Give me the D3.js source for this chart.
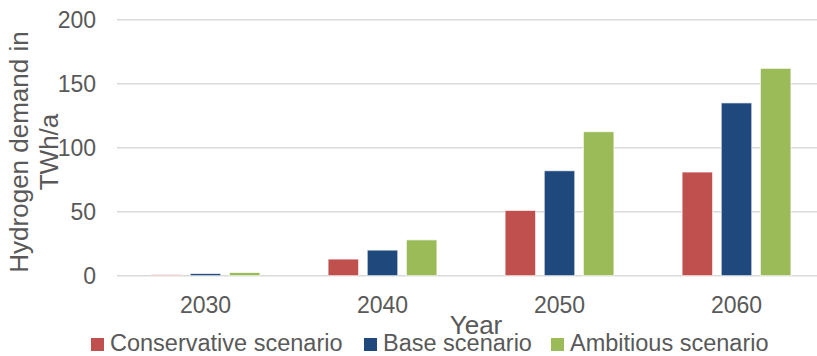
<!DOCTYPE html>
<html>
<head>
<meta charset="utf-8">
<script src="https://cdn.jsdelivr.net/npm/d3@7"></script>
<style>
  body { margin: 0; background: #fff; }
  svg { display: block; font-family: "Liberation Sans", Arial, sans-serif; }
</style>
</head>
<body>
<svg id="chart" width="817" height="356"></svg>
<script>
var years = ['2030', '2040', '2050', '2060'];
var seriesNames = ['Conservative scenario', 'Base scenario', 'Ambitious scenario'];
var seriesColors = ['#C0504D', '#1F497D', '#9BBB59'];
var conservative = [0.8, 13, 51, 81];
var base = [1.7, 20, 82, 135];
var ambitious = [2.5, 28, 112.5, 162];
var yTicks = [0, 50, 100, 150, 200];

var values = [conservative, base, ambitious];

var svg = d3.select('#chart');
var plotLeft = 117, plotRight = 825, plotTop = 19.7, plotBottom = 275.7;

var x0 = d3.scaleBand()
    .domain(years)
    .range([plotLeft, plotRight])
    .paddingInner(0.385)
    .paddingOuter(0.1925);

var x1 = d3.scaleBand()
    .domain(d3.range(seriesNames.length))
    .range([0, x0.bandwidth()])
    .paddingInner(0.22);

var y = d3.scaleLinear().domain([0, 200]).range([plotBottom, plotTop]);

// gridlines
svg.append('g')
    .selectAll('line')
    .data(yTicks)
    .enter()
    .append('line')
    .attr('x1', plotLeft)
    .attr('x2', plotRight)
    .attr('y1', function(d){ return y(d); })
    .attr('y2', function(d){ return y(d); })
    .attr('stroke', '#d9d9d9')
    .attr('stroke-width', 1.4);

// y tick labels
svg.append('g')
    .selectAll('text')
    .data(yTicks)
    .enter()
    .append('text')
    .attr('x', 96)
    .attr('y', function(d){ return y(d) + 8; })
    .attr('text-anchor', 'end')
    .attr('font-size', 23)
    .attr('fill', '#595959')
    .text(function(d){ return d; });

// bars
var groups = svg.append('g')
    .selectAll('g')
    .data(years)
    .enter()
    .append('g')
    .attr('transform', function(d){ return 'translate(' + x0(d) + ',0)'; });

groups.selectAll('rect')
    .data(function(d, i){
      return values.map(function(s, k){ return {k: k, v: s[i]}; });
    })
    .enter()
    .append('rect')
    .attr('x', function(d){ return x1(d.k); })
    .attr('width', x1.bandwidth())
    .attr('y', function(d){ return y(d.v); })
    .attr('height', function(d){ return plotBottom - y(d.v); })
    .attr('fill', function(d){ return seriesColors[d.k]; })
    .attr('stroke', '#ffffff')
    .attr('stroke-opacity', 0.7)
    .attr('stroke-width', 1);

// x tick labels
svg.append('g')
    .selectAll('text')
    .data(years)
    .enter()
    .append('text')
    .attr('x', function(d){ return x0(d) + x0.bandwidth() / 2; })
    .attr('y', 313)
    .attr('text-anchor', 'middle')
    .attr('font-size', 23)
    .attr('fill', '#595959')
    .text(function(d){ return d; });

// axis titles
svg.append('text')
    .attr('x', 476)
    .attr('y', 334)
    .attr('text-anchor', 'middle')
    .attr('font-size', 26)
    .attr('fill', '#595959')
    .text('Year');

var yTitle = svg.append('text')
    .attr('transform', 'translate(28,152) rotate(-90)')
    .attr('text-anchor', 'middle')
    .attr('font-size', 26)
    .attr('fill', '#595959');
yTitle.append('tspan').attr('x', 0).attr('dy', 0).text('Hydrogen demand in');
yTitle.append('tspan').attr('x', 0).attr('dy', 30).text('TWh/a');

// legend
var legendX = [91, 364, 551];
var legend = svg.append('g')
    .selectAll('g')
    .data(seriesNames)
    .enter()
    .append('g')
    .attr('transform', function(d, i){ return 'translate(' + legendX[i] + ',0)'; });

legend.append('rect')
    .attr('x', 0)
    .attr('y', 338)
    .attr('width', 13)
    .attr('height', 13)
    .attr('fill', function(d, i){ return seriesColors[i]; });

legend.append('text')
    .attr('x', 19)
    .attr('y', 351)
    .attr('font-size', 23.5)
    .attr('fill', '#595959')
    .text(function(d){ return d; });
</script>
</body>
</html>
